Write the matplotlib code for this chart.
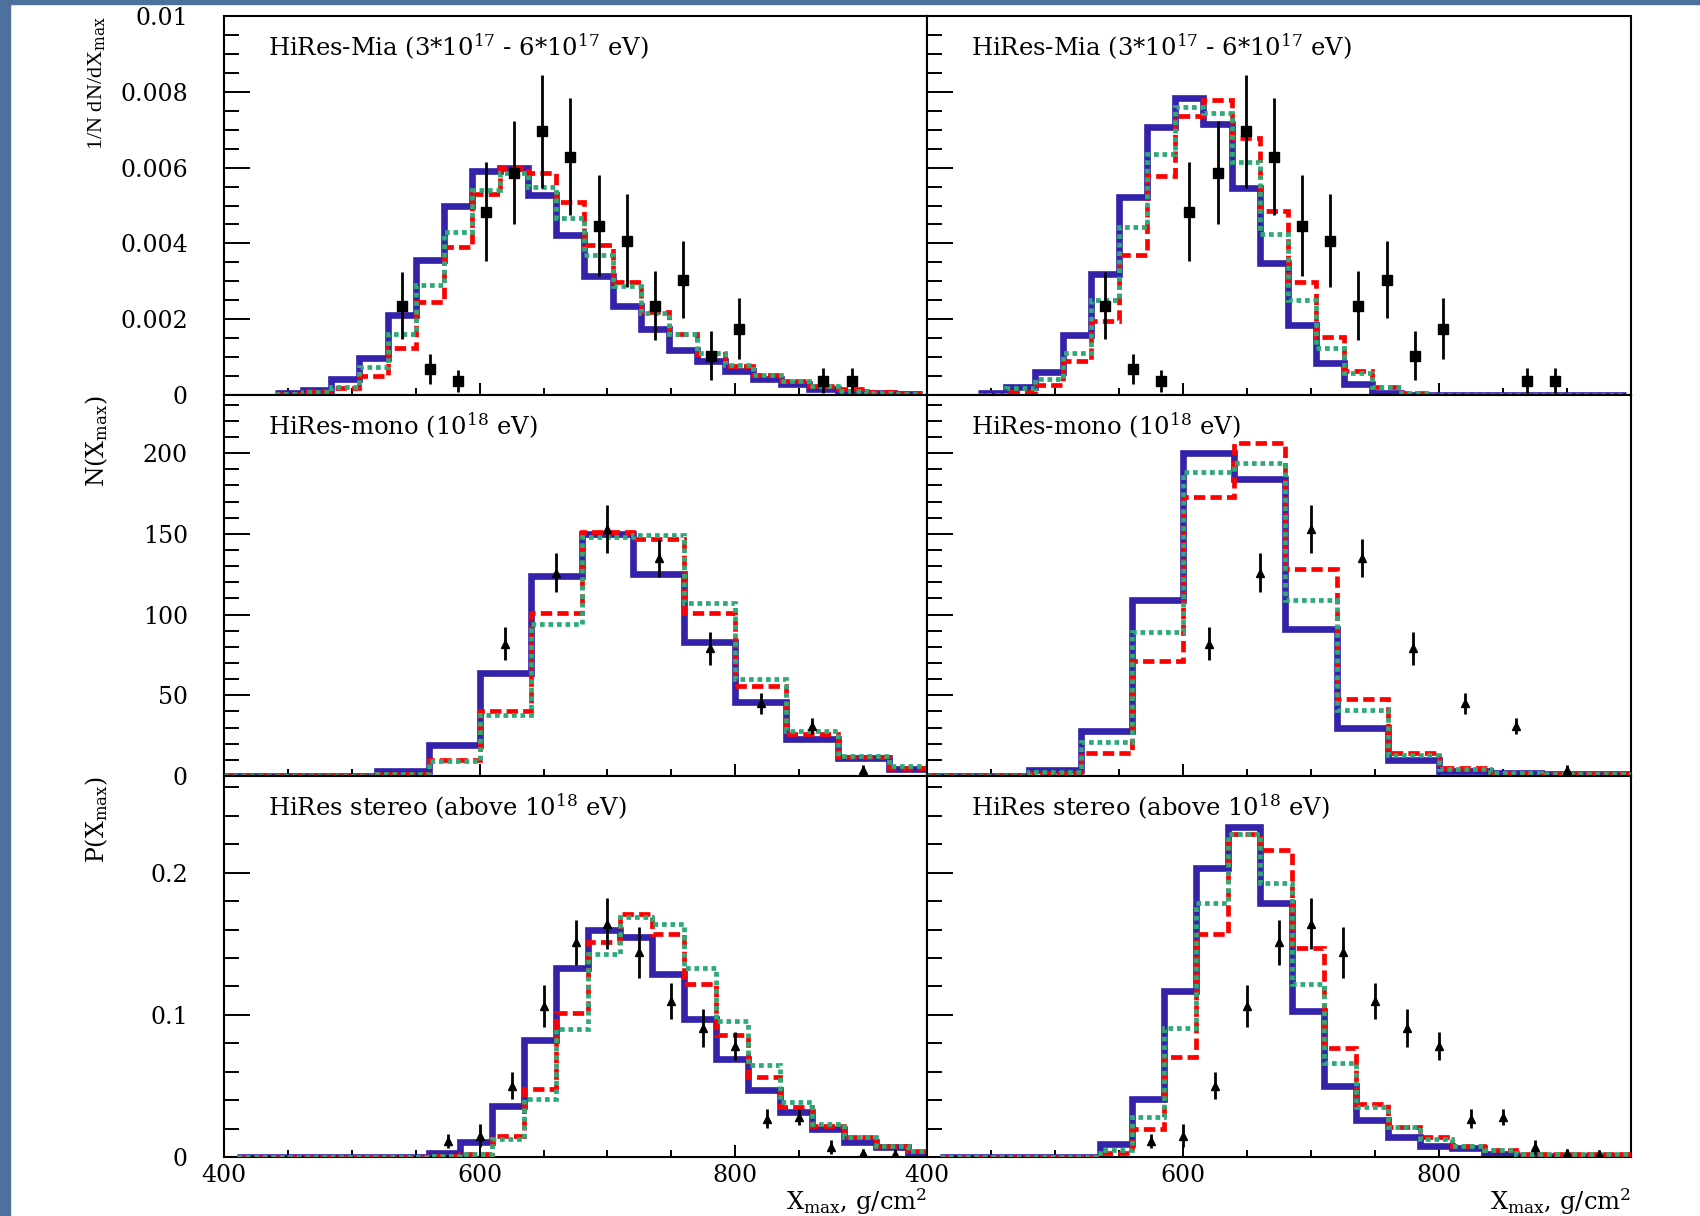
import matplotlib.pyplot as plt
from matplotlib.patches import Rectangle
from matplotlib.ticker import MultipleLocator

plt.rcParams['font.family'] = ['DejaVu Serif']
plt.rcParams['mathtext.fontset'] = 'dejavuserif'

# ---------------- HiRes-Mia (top row), 1/N dN/dXmax ----------------
mia_edges = [440, 462, 484, 506, 528, 550, 572, 594, 616, 638, 660, 682,
             704, 726, 748, 770, 792, 814, 836, 858, 880, 902, 924, 946]
mia_blue_l = [0.00005, 0.00013, 0.00042, 0.00098, 0.0021, 0.00355, 0.0050, 0.0059,
              0.0060, 0.00528, 0.00423, 0.00313, 0.00234, 0.00173, 0.0012, 0.0009,
              0.00063, 0.00041, 0.00028, 0.00015, 0.00008, 0.00005, 0.00003]
mia_red_l = [0.00003, 0.0001, 0.00018, 0.0005, 0.00125, 0.00245, 0.0039, 0.0053,
             0.0060, 0.00585, 0.0051, 0.00396, 0.00297, 0.0022, 0.0016, 0.00107,
             0.00076, 0.00054, 0.00037, 0.00024, 0.00015, 0.00009, 0.00006]
mia_green_l = [0.00003, 0.00008, 0.00022, 0.00075, 0.0016, 0.0029, 0.0043, 0.0054,
               0.00585, 0.0055, 0.00467, 0.0037, 0.00287, 0.00217, 0.0016, 0.00111,
               0.0008, 0.00054, 0.00037, 0.00024, 0.0001, 0.00005, 0.00003]
mia_blue_r = [0.00004, 0.0002, 0.00062, 0.00158, 0.00318, 0.00522, 0.00706, 0.00784,
              0.00715, 0.00545, 0.00347, 0.00185, 0.00085, 0.00028, 0.00005, 0.0,
              0.0, 0.0, 0.0, 0.0, 0.0, 0.0, 0.0]
mia_red_r = [0.0, 0.00008, 0.00026, 0.00089, 0.00195, 0.0037, 0.00578, 0.00735,
             0.00778, 0.00678, 0.00485, 0.00297, 0.00153, 0.00063, 0.0002, 0.00004,
             0.0, 0.0, 0.0, 0.0, 0.0, 0.0, 0.0]
mia_green_r = [0.0, 0.00018, 0.00041, 0.00112, 0.0025, 0.00443, 0.00636, 0.00759,
               0.00745, 0.00614, 0.00425, 0.0025, 0.00123, 0.00057, 0.00022, 0.00004,
               0.0, 0.0, 0.0, 0.0, 0.0, 0.0, 0.0]
mia_x = [539, 561, 583, 605, 627, 649, 671, 693, 715, 737, 759, 781, 803, 869, 891]
mia_y = [0.00236, 0.00068, 0.00037, 0.00484, 0.00587, 0.00696, 0.00629, 0.00447,
         0.00407, 0.00236, 0.00304, 0.00104, 0.00175, 0.00037, 0.00037]
mia_err = [0.00088, 0.0004, 0.0003, 0.0013, 0.00137, 0.00149, 0.00154, 0.00134,
           0.00123, 0.00092, 0.00102, 0.00064, 0.00081, 0.00033, 0.00033]

# ---------------- HiRes-mono (middle row), N(Xmax) ----------------
mono_edges = [400, 440, 480, 520, 560, 600, 640, 680, 720, 760, 800, 840, 880, 920, 960]
mono_blue_l = [0, 0, 0, 3, 19, 64, 124, 150, 125, 83, 46, 23, 11, 4.5]
mono_red_l = [0, 0, 0, 1, 10, 40, 101, 151, 147, 101, 56, 26, 12, 5]
mono_green_l = [0, 0, 0, 1.5, 9, 38, 94, 148, 149, 107, 60, 28, 12.5, 6]
mono_blue_r = [0, 0, 3.5, 28, 109, 200, 184, 91, 30, 10, 3, 2, 1, 1]
mono_red_r = [0, 0, 2, 14, 71, 173, 206, 128, 48, 14, 5, 2, 1, 1]
mono_green_r = [0, 0, 2.5, 21, 89, 188, 194, 109, 41, 13, 4.5, 2, 1, 1]
mono_x = [620, 660, 700, 740, 780, 820, 860, 900]
mono_y = [82, 126, 153, 135, 79, 45, 31, 4]
mono_err = [10, 12, 15, 12, 10, 6.5, 5, 3]

# ---------------- HiRes stereo (bottom row), P(Xmax) ----------------
st_edges = [410, 435, 460, 485, 510, 535, 560, 585, 610, 635, 660, 685,
            710, 735, 760, 785, 810, 835, 860, 885, 910, 935, 960]
st_blue_l = [0, 0, 0, 0, 0, 0, 0.003, 0.0106, 0.036, 0.082, 0.133, 0.160, 0.155,
             0.129, 0.097, 0.069, 0.047, 0.032, 0.020, 0.0106, 0.007, 0.002]
st_red_l = [0, 0, 0, 0, 0, 0, 0.001, 0.0023, 0.015, 0.048, 0.101, 0.151, 0.171,
            0.157, 0.122, 0.086, 0.056, 0.035, 0.022, 0.014, 0.008, 0.004]
st_green_l = [0, 0, 0, 0, 0, 0, 0.001, 0.002, 0.013, 0.041, 0.090, 0.143, 0.169,
              0.164, 0.133, 0.096, 0.065, 0.039, 0.023, 0.014, 0.008, 0.004]
st_blue_r = [0, 0, 0, 0, 0, 0.0094, 0.041, 0.117, 0.203, 0.232, 0.179, 0.103, 0.050,
             0.026, 0.014, 0.008, 0.006, 0.0023, 0.0005, 0.0005, 0.0005, 0.0005]
st_red_r = [0, 0, 0, 0, 0, 0.003, 0.020, 0.070, 0.157, 0.227, 0.216, 0.147, 0.077,
            0.037, 0.021, 0.014, 0.008, 0.005, 0.002, 0.002, 0.002, 0.002]
st_green_r = [0, 0, 0, 0, 0, 0.005, 0.028, 0.091, 0.179, 0.227, 0.193, 0.122, 0.066,
              0.035, 0.021, 0.013, 0.008, 0.005, 0.002, 0.002, 0.002, 0.002]
st_x = [575, 600, 625, 650, 675, 700, 725, 750, 775, 800, 825, 850, 875, 900, 925]
st_y = [0.011, 0.015, 0.050, 0.106, 0.151, 0.164, 0.144, 0.110, 0.091, 0.078,
        0.027, 0.028, 0.007, 0.0025, 0.002]
st_err = [0.005, 0.008, 0.0095, 0.0147, 0.0157, 0.018, 0.018, 0.0127, 0.0134,
          0.0097, 0.0065, 0.0055, 0.005, 0.003, 0.003]

# ---------------- axis text ----------------
titles = [r'HiRes-Mia (3*10$^{17}$ - 6*10$^{17}$ eV)',
          r'HiRes-mono (10$^{18}$ eV)',
          r'HiRes stereo (above 10$^{18}$ eV)']
ylabels = [r'1/N dN/dX$_{\rm max}$', r'N(X$_{\rm max}$)', r'P(X$_{\rm max}$)']
ylabel_fonts = [('Liberation Serif', 16), ('DejaVu Serif', 17), ('DejaVu Serif', 17)]
yticks = [[0, 0.002, 0.004, 0.006, 0.008, 0.01], [0, 50, 100, 150, 200], [0, 0.1, 0.2]]
ytick_labels = [['0', '0.002', '0.004', '0.006', '0.008', '0.01'],
                ['0', '50', '100', '150', '200'],
                ['0', '0.1', '0.2']]
xticks = [400, 600, 800]
xtick_labels = ['400', '600', '800']
xlabel = r'X$_{\rm max}$, g/cm$^{2}$'

BLUE = '#3322aa'
RED = '#ff0000'
GREEN = '#2eaa78'

rows = [
    dict(edges=mia_edges, hist=[(mia_blue_l, mia_red_l, mia_green_l), (mia_blue_r, mia_red_r, mia_green_r)],
         x=mia_x, y=mia_y, err=mia_err, marker='s', ms=6.5, ylim=0.01, minor=0.0005),
    dict(edges=mono_edges, hist=[(mono_blue_l, mono_red_l, mono_green_l), (mono_blue_r, mono_red_r, mono_green_r)],
         x=mono_x, y=mono_y, err=mono_err, marker='^', ms=5.5, ylim=236, minor=10),
    dict(edges=st_edges, hist=[(st_blue_l, st_red_l, st_green_l), (st_blue_r, st_red_r, st_green_r)],
         x=st_x, y=st_y, err=st_err, marker='^', ms=5.5, ylim=0.268, minor=0.02),
]

W, H = 1700, 1216
fig = plt.figure(figsize=(W / 100, H / 100), dpi=100)
fig.patch.set_facecolor('white')
# blue slide border on the left and top
fig.add_artist(Rectangle((0, 0), 10 / W, 1, transform=fig.transFigure, color='#4e709c', zorder=0))
fig.add_artist(Rectangle((0, 1 - 4 / H), 1, 4 / H, transform=fig.transFigure, color='#4e709c', zorder=0))

col_left = [224, 927]
col_width = [703, 704]
row_top = [16, 395, 776]
row_bot = [395, 776, 1157]

for i, r in enumerate(rows):
    for j in range(2):
        ax = fig.add_axes([col_left[j] / W, (H - row_bot[i]) / H,
                           col_width[j] / W, (row_bot[i] - row_top[i]) / H])
        blue, red, green = r['hist'][j]
        ax.stairs(blue, r['edges'], color=BLUE, lw=4.8, baseline=None, zorder=2)
        ax.stairs(red, r['edges'], color=RED, lw=3.4, ls=(0, (2.4, 1.1)), baseline=None, zorder=3)
        ax.stairs(green, r['edges'], color=GREEN, lw=3.4, ls=(0, (1.0, 0.8)), baseline=None, zorder=4)
        ax.errorbar(r['x'], r['y'], yerr=r['err'], fmt=r['marker'], color='black',
                    ms=r['ms'], elinewidth=2, capsize=0, zorder=5)

        ax.set_xlim(400, 950)
        ax.set_ylim(0, r['ylim'])
        ax.set_xticks(xticks)
        ax.xaxis.set_minor_locator(MultipleLocator(50))
        ax.set_yticks(yticks[i])
        ax.yaxis.set_minor_locator(MultipleLocator(r['minor']))
        ax.tick_params(axis='both', which='both', direction='in', top=False, right=False,
                       width=1.4, colors='black', labelsize=17)
        ax.tick_params(axis='x', which='major', length=9, pad=5)
        ax.tick_params(axis='x', which='minor', length=5)
        ax.tick_params(axis='y', which='major', length=19, pad=26)
        ax.tick_params(axis='y', which='minor', length=11)
        for s in ax.spines.values():
            s.set_linewidth(1.5)

        if j == 0:
            ax.set_yticklabels(ytick_labels[i])
            fam, size = ylabel_fonts[i]
            ax.text(-0.181, 1.0, ylabels[i], transform=ax.transAxes, rotation=90,
                    ha='center', va='top', fontsize=size, family=[fam, 'DejaVu Serif'])
        else:
            ax.tick_params(axis='y', labelleft=False)
        if i == 2:
            ax.set_xticklabels(xtick_labels)
            ax.text(1.0, -0.116, xlabel, transform=ax.transAxes, ha='right', va='center',
                    fontsize=17.5)
        else:
            ax.tick_params(axis='x', labelbottom=False)

        ax.text(0.062, 0.895, titles[i], transform=ax.transAxes, ha='left',
                va='baseline', fontsize=17.5)

fig.savefig('out.png', dpi=100)
